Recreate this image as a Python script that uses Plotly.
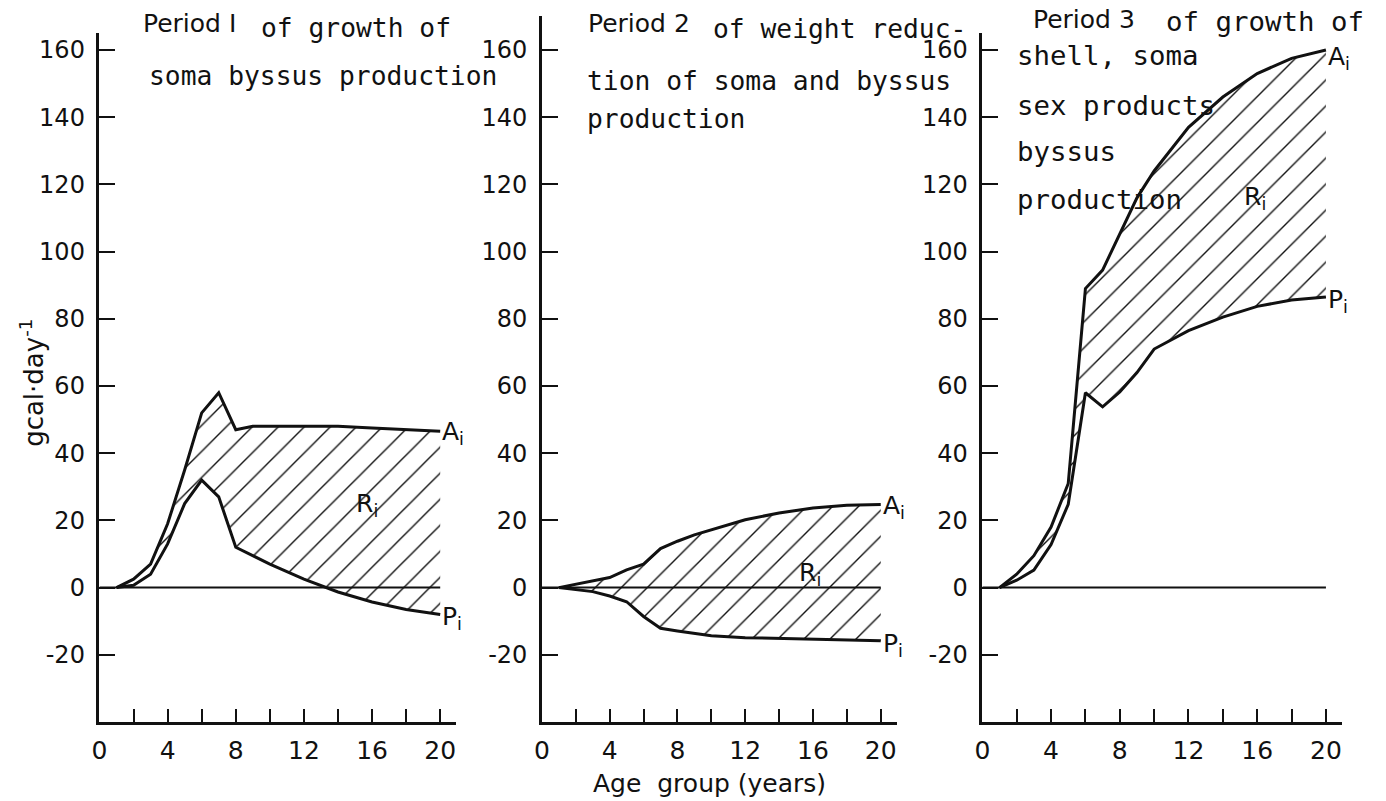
import plotly.graph_objects as go

# ---------------- data ----------------
# Period 1
p1_age_A = [1, 2, 3, 4, 5, 6, 7, 8, 9, 10, 12, 14, 16, 18, 20]
p1_A = [0, 2.5, 7, 19, 35, 52, 58, 47, 48, 48, 48, 48, 47.5, 47, 46.5]
p1_age_P = [1, 2, 3, 4, 5, 6, 7, 8, 10, 12, 14, 16, 18, 20]
p1_P = [0, 0.7, 4, 13, 25, 32, 27, 12, 7, 2.5, -1.3, -4.3, -6.5, -8]

# Period 2
p2_age = [1, 2, 3, 4, 5, 6, 7, 8, 9, 10, 12, 14, 16, 18, 20]
p2_A = [0, 1, 2, 3, 5.3, 7, 11.6, 13.8, 15.7, 17.2, 20.2, 22.2, 23.7, 24.5, 24.7]
p2_P = [0, -0.5, -1.2, -2.5, -4.2, -8.6, -12.1, -12.9, -13.7, -14.3, -14.9, -15.1, -15.3, -15.6, -15.8]

# Period 3
p3_age = [1, 2, 3, 4, 5, 6, 7, 8, 9, 10, 12, 14, 16, 18, 20]
p3_A = [0, 4, 9.5, 18, 31, 89, 94.5, 105, 116, 124, 137, 146, 153, 157.5, 160]
p3_P = [0, 2.2, 5.2, 12.8, 24.8, 58, 53.8, 58.2, 64, 71, 76.5, 80.5, 83.7, 85.6, 86.5]

zero_x = [0, 20]
zero_y = [0, 0]

x_tickvals = [0, 2, 4, 6, 8, 10, 12, 14, 16, 18, 20]
x_ticktext = ["0", "", "4", "", "8", "", "12", "", "16", "", "20"]
y_tickvals = [-20, 0, 20, 40, 60, 80, 100, 120, 140, 160]
y_ticktext = ["-20", "0", "20", "40", "60", "80", "100", "120", "140", "160"]

titles = [
    [("Period I", "sans", 143, 24), ("of growth of", "mono", 262, 28),
     ("soma byssus production", "mono", 149, 76)],
    [("Period 2", "sans", 590, 24), ("of weight reduc-", "mono", 716, 29),
     ("tion of soma and byssus", "mono", 589, 81), ("production", "mono", 589, 119)],
    [("Period 3", "sans", 1038, 20), ("of growth of", "mono3", 1172, 22),
     ("shell, soma", "mono3", 1022, 56), ("sex products", "mono3", 1022, 106),
     ("byssus", "mono3", 1022, 151), ("production", "mono3", 1022, 200)],
]

# ---------------- layout geometry ----------------
W, H = 1386, 801
ANN_DX = -9  # correction of the annotation box padding


def fx(px):
    return px / W


def fy(py):
    return 1 - py / H


BOTTOM_PX = 722
YMIN = -40
PX_PER_UNIT = 3.36
panel_geo = [
    dict(x0=92, x1=451, ytop=165, a_shift=-2),
    dict(x0=537, x1=894, ytop=170, a_shift=-2),
    dict(x0=980, x1=1342, ytop=165, a_shift=-8),
]

BLACK = "#111111"
SANS = "DejaVu Sans"
MONO = "DejaVu Sans Mono"

fig = go.Figure()

series = [
    (p1_age_A, p1_A, p1_age_P, p1_P),
    (p2_age, p2_A, p2_age, p2_P),
    (p3_age, p3_A, p3_age, p3_P),
]
r_label_pos = [(15.45, 25.8), (15.6, 5.1), (15.65, 117)]

for i, (ax_, ay_, px_, py_) in enumerate(series):
    n = i + 1
    xa = "x" if n == 1 else f"x{n}"
    ya = "y" if n == 1 else f"y{n}"
    # hatched R_i region between A_i and P_i
    fig.add_trace(go.Scatter(
        x=list(ax_) + list(px_)[::-1], y=list(ay_) + list(py_)[::-1],
        mode="none", fill="toself", fillcolor="rgba(255,255,255,0)",
        fillpattern=dict(shape="/", size=18.4, solidity=0.075, fgcolor=BLACK,
                         bgcolor="rgba(255,255,255,0)", fillmode="replace", fgopacity=1),
        xaxis=xa, yaxis=ya, showlegend=False, hoverinfo="skip"))
    # zero line
    fig.add_trace(go.Scatter(x=zero_x, y=zero_y, mode="lines",
                             line=dict(color=BLACK, width=2), xaxis=xa, yaxis=ya,
                             showlegend=False, hoverinfo="skip"))
    # A_i and P_i curves
    fig.add_trace(go.Scatter(x=ax_, y=ay_, mode="lines", line=dict(color=BLACK, width=3),
                             xaxis=xa, yaxis=ya, showlegend=False, name="A_i"))
    fig.add_trace(go.Scatter(x=px_, y=py_, mode="lines", line=dict(color=BLACK, width=3),
                             xaxis=xa, yaxis=ya, showlegend=False, name="P_i"))

layout = dict(
    width=W, height=H, margin=dict(l=0, r=0, t=0, b=0),
    paper_bgcolor="white", plot_bgcolor="white", showlegend=False,
)

annotations = []
for i, g in enumerate(panel_geo):
    n = i + 1
    xk = "xaxis" if n == 1 else f"xaxis{n}"
    yk = "yaxis" if n == 1 else f"yaxis{n}"
    ytop_px = BOTTOM_PX - (g["ytop"] - YMIN) * PX_PER_UNIT
    layout[xk] = dict(
        domain=[fx(g["x0"]), fx(g["x1"])], range=[0, 20.95],
        anchor="y" if n == 1 else f"y{n}",
        showline=True, linewidth=3, linecolor=BLACK, mirror=False,
        ticks="inside", ticklen=13, tickwidth=1.5, tickcolor=BLACK,
        tickvals=x_tickvals, ticktext=x_ticktext, ticklabelstandoff=4,
        showgrid=False, zeroline=False,
        tickfont=dict(family=SANS, size=25, color=BLACK),
    )
    layout[yk] = dict(
        domain=[fy(BOTTOM_PX), fy(ytop_px)], range=[YMIN, g["ytop"]],
        anchor="x" if n == 1 else f"x{n}",
        showline=True, linewidth=2.5, linecolor=BLACK,
        ticks="inside", ticklen=16, tickwidth=2, tickcolor=BLACK,
        tickvals=y_tickvals, ticktext=y_ticktext, ticklabelstandoff=7,
        showgrid=False, zeroline=False,
        tickfont=dict(family=SANS, size=24, color=BLACK),
    )
    xr = "x" if n == 1 else f"x{n}"
    yr = "y" if n == 1 else f"y{n}"
    ax_, ay_, px_, py_ = series[i]
    annotations.append(dict(x=ax_[-1], y=ay_[-1], xref=xr, yref=yr, text="A<sub>i</sub>",
                            showarrow=False, xanchor="left", yanchor="middle", xshift=0,
                            yshift=g["a_shift"],
                            font=dict(family=SANS, size=25, color=BLACK)))
    annotations.append(dict(x=px_[-1], y=py_[-1], xref=xr, yref=yr, text="P<sub>i</sub>",
                            showarrow=False, xanchor="left", yanchor="middle", xshift=0, yshift=-4,
                            font=dict(family=SANS, size=25, color=BLACK)))
    rx, ry = r_label_pos[i]
    annotations.append(dict(x=rx, y=ry, xref=xr, yref=yr, text="R<sub>i</sub>",
                            showarrow=False, xanchor="left", yanchor="middle", xshift=ANN_DX, yshift=-4,
                            font=dict(family=SANS, size=25, color=BLACK)))
    for text, kind, lx, cy in titles[i]:
        if kind == "sans":
            f = dict(family=SANS, size=25, color=BLACK)
        elif kind == "mono":
            f = dict(family=MONO, size=26.3, color=BLACK)
        else:
            f = dict(family=MONO, size=27.4, color=BLACK)
        annotations.append(dict(x=fx(lx), y=fy(cy), xref="paper", yref="paper", text=text,
                                showarrow=False, xanchor="left", yanchor="middle",
                                xshift=ANN_DX, font=f))

annotations.append(dict(x=fx(24), y=fy(383), xref="paper", yref="paper",
                        text="gcal·day<sup>-1</sup>", textangle=-90, showarrow=False,
                        xanchor="center", yanchor="middle",
                        font=dict(family=SANS, size=26, color=BLACK)))
annotations.append(dict(x=fx(706), y=fy(783), xref="paper", yref="paper",
                        text="Age\u00a0 group (years)", showarrow=False,
                        xanchor="center", yanchor="middle",
                        font=dict(family=SANS, size=25, color=BLACK)))
layout["annotations"] = annotations

fig.update_layout(**layout)
fig.write_html("out.html")
